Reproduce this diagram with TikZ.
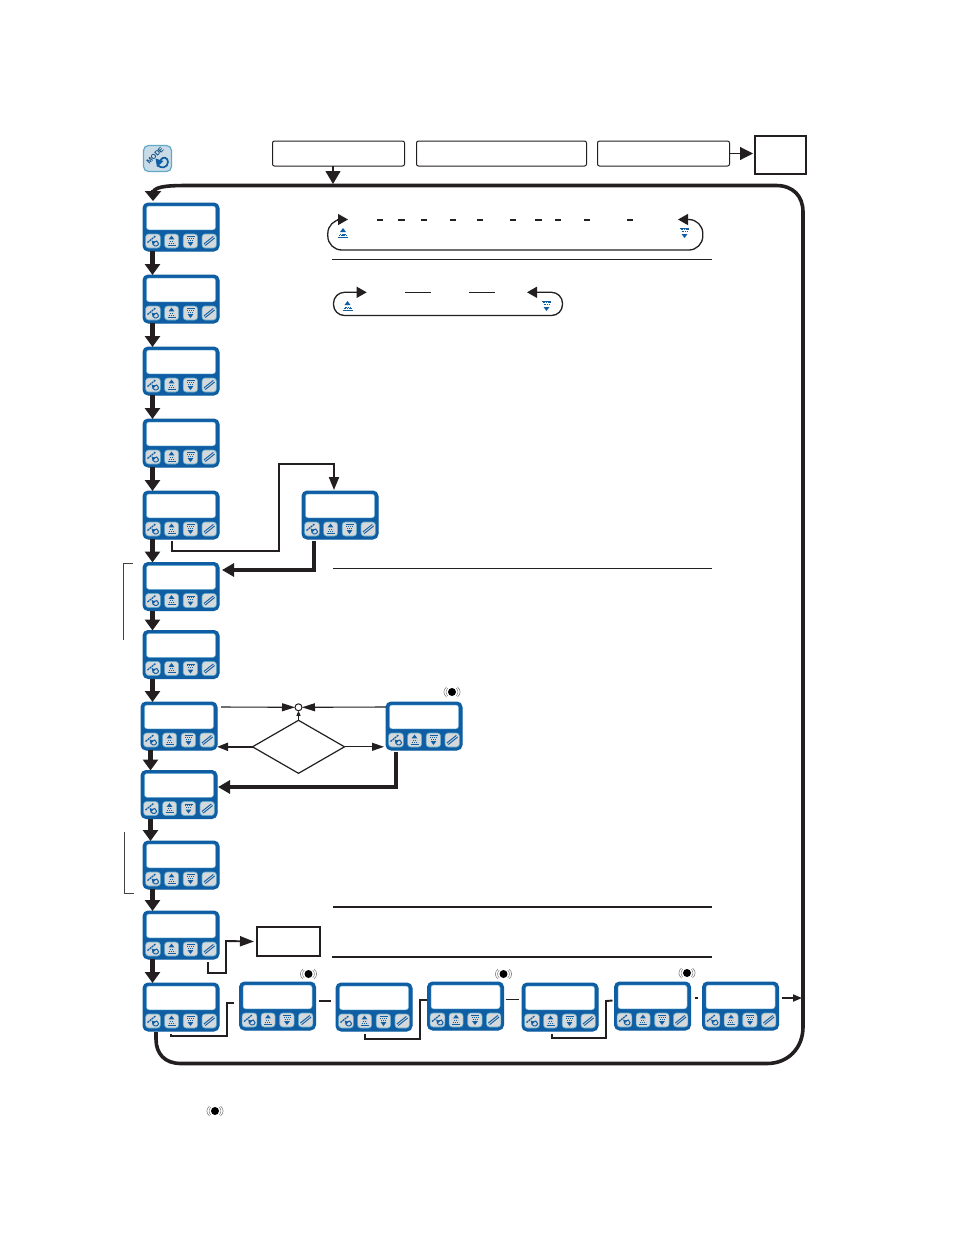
\documentclass[tikz,border=0pt]{standalone}
\usepackage{fontspec}
\setmainfont{Liberation Sans}
\usetikzlibrary{arrows.meta,calc,shapes.geometric}
\definecolor{ink}{HTML}{231F20}
\definecolor{panel}{HTML}{0F5EA3}
\definecolor{panelglow}{HTML}{6DB2D6}
\definecolor{keyface}{HTML}{D6D9DB}
\definecolor{keyring}{HTML}{5FA9C9}
\definecolor{modeface}{HTML}{C8DBE6}
\tikzset{
  x=1pt,y=-1pt,
  devicebody/.style={draw=panel,fill=panel,line width=1,rounded corners=5,minimum width=76,minimum height=48,inner sep=0,outer sep=0,anchor=north west},
  devicescreen/.style={draw=panelglow,fill=white,line width=.5,rounded corners=2.5},
  devicekey/.style={draw=keyring,fill=keyface,line width=.6,rounded corners=3},
  glyphline/.style={draw=panel,line width=.7},
  stepflow/.style={draw=ink,line width=5,-{Triangle[length=11pt,width=15pt]}},
  heavyflow/.style={draw=ink,line width=4.5,-{Triangle[length=12pt,width=13pt]}},
  loopline/.style={draw=ink,line width=3.6},
  midflow/.style={draw=ink,line width=1.9},
  thinflow/.style={draw=ink,line width=1.1},
  rangeline/.style={draw=ink,line width=1.3},
  rangetip/.style={-{Triangle[length=10pt,width=11pt]}},
  topbox/.style={draw=ink,line width=1,rounded corners=2,inner sep=0,outer sep=0,anchor=north west},
  rulethin/.style={draw=ink,line width=1},
  rulethick/.style={draw=ink,line width=2},
  bracket/.style={draw=ink!85,line width=1},
  dashmark/.style={draw=ink,line width=1.5},
}
% A display unit: blue body, white screen, four keys with their markings.
\newcommand\device[3]{%
  \node[devicebody] (#1) at (#2,#3) {};
  \begin{scope}[shift={(#1.north west)}]
    \draw[devicescreen] (3.5,3) rectangle (72.5,26.8);
    \draw[devicekey] (2.6,31) rectangle (17.4,45);
    \draw[devicekey] (21.6,31) rectangle (35.6,45);
    \draw[devicekey] (40.2,31) rectangle (54.6,45);
    \draw[devicekey] (59,31) rectangle (73.4,45);
    % first key: function bar and return arrow
    \draw[panel,line width=1.3,dash pattern=on 2 off .7] (4.5,39.5) -- (12.5,33);
    \draw[panel,line width=1] (10,41.5) .. controls (12,44) and (15.5,43) .. (15.5,40.5) .. controls (15.5,38) and (12.5,37) .. (11,39);
    \fill[panel] (8.7,37.5) -- (12.6,39) -- (9.6,42) -- cycle;
    % second key: triangle above small print
    \fill[panel] (28.5,32.6) -- (31.4,36.4) -- (25.6,36.4) -- cycle;
    \draw[glyphline,dash pattern=on 1.4 off .6] (26.5,38.2) -- (30.5,38.2);
    \draw[glyphline,dash pattern=on 1.4 off .6] (25.5,40.2) -- (31.5,40.2);
    \draw[glyphline] (24.5,42.2) -- (32.5,42.2);
    % third key: small print above triangle
    \draw[glyphline] (43.5,33.4) -- (51.5,33.4);
    \draw[glyphline,dash pattern=on 1.4 off .6] (44,35.2) -- (51,35.2);
    \draw[glyphline,dash pattern=on 1.4 off .6] (45,37) -- (50,37);
    \fill[panel] (47.5,43) -- (50.4,39) -- (44.6,39) -- cycle;
    % fourth key: slanted bars
    \draw[panel,line width=3] (61.5,41.8) -- (71,34.2);
    \draw[keyface,line width=.8] (61.5,41.8) -- (71,34.2);
    \coordinate (#1-a) at (0,48);
  \end{scope}}
% Alarm mark: black dot between two grey arcs.
\newcommand\alarm[3]{%
  \node[circle,fill=black,draw=none,minimum size=8,inner sep=0] (#1) at (#2,#3) {};
  \draw[black!55,line width=.5] ($(#1)+(-5.5,-5)$) .. controls ($(#1)+(-9,-2)$) and ($(#1)+(-9,2)$) .. ($(#1)+(-5.5,5)$);
  \draw[black!55,line width=.5] ($(#1)+(5.5,-5)$) .. controls ($(#1)+(9,-2)$) and ($(#1)+(9,2)$) .. ($(#1)+(5.5,5)$);
  \draw[black!55,line width=.4] ($(#1)+(-4.3,-3.8)$) .. controls ($(#1)+(-6.5,-1)$) and ($(#1)+(-6.5,1)$) .. ($(#1)+(-4.3,3.8)$);
  \draw[black!55,line width=.4] ($(#1)+(4.3,-3.8)$) .. controls ($(#1)+(6.5,-1)$) and ($(#1)+(6.5,1)$) .. ($(#1)+(4.3,3.8)$);}
% Key symbols printed beside the selection loops.
\newcommand\upmark[2]{%
  \begin{scope}[shift={(#1,#2)}]
    \fill[panel] (0,-5) -- (3,-1) -- (-3,-1) -- cycle;
    \draw[glyphline,dash pattern=on 1.2 off .5] (-3,1) -- (3,1);
    \draw[glyphline,dash pattern=on 1.2 off .5] (-4,2.8) -- (4,2.8);
    \draw[glyphline] (-5,4.6) -- (5,4.6);
  \end{scope}}
\newcommand\downmark[2]{%
  \begin{scope}[shift={(#1,#2)}]
    \draw[glyphline] (-4.5,-5) -- (4.5,-5);
    \draw[glyphline,dash pattern=on 1.2 off .5] (-4,-3.2) -- (4,-3.2);
    \draw[glyphline,dash pattern=on 1.2 off .5] (-3,-1.4) -- (3,-1.4);
    \fill[panel] (0,5) -- (3,1) -- (-3,1) -- cycle;
  \end{scope}}
\begin{document}
\begin{tikzpicture}
\useasboundingbox (0,0) rectangle (954,1235);
\fill[white] (0,0) rectangle (954,1235);

% Mode key at the head of the chart
\node[draw=keyring,fill=modeface,line width=1.2,rounded corners=5,minimum width=28,minimum height=26,inner sep=0] (modekey) at (157.5,158.5) {};
\node[rotate=45,text=panel!80!black,font=\bfseries\fontsize{7}{7}\selectfont,inner sep=0] (modelabel) at (155,155.5) {MODE};
\draw[panel,line width=1.7] (157.5,165) .. controls (160.5,169) and (168,168) .. (168,162) .. controls (168,157.5) and (163,156) .. (160.5,160);
\fill[panel] (155.5,158.5) -- (163.5,161) -- (157,167) -- cycle;

% Start-up messages and the power box
\node[topbox,minimum width=132,minimum height=25] (t1) at (272.5,141) {};
\node[topbox,minimum width=170,minimum height=25] (t2) at (416.5,141) {};
\node[topbox,minimum width=132,minimum height=25] (t3) at (597.5,141) {};
\node[draw=ink,line width=1.5,minimum width=51,minimum height=38,inner sep=0,outer sep=0,anchor=north west] (power) at (755,136) {};
\draw[thinflow,-{Triangle[length=13pt,width=13pt]}] (t3.east) -- ($(t3.east -| power.west)+(-2,0)$);
\coordinate (loopjoin) at (333,184);
\draw[thinflow,-{Triangle[length=13pt,width=15pt]}] (t1.south -| loopjoin) -- (loopjoin);

% Column of menu steps
\device{d1}{143}{203}
\device{d2}{143}{275}
\device{d3}{143}{347}
\device{d4}{143}{419}
\device{d5}{143}{491}
\device{d6}{143}{562.5}
\device{d7}{143}{630.5}
\device{d8}{141}{702}
\device{d9}{141}{770.5}
\device{d10}{143}{841}
\device{d11}{143}{911}
\device{d12}{143}{983}
% Side branches
\device{d13}{302}{491}
\device{d14}{386}{702}
% Bottom row
\device{r1}{239.5}{982}
\device{r2}{336}{983}
\device{r3}{427.5}{982}
\device{r4}{522}{983}
\device{r5}{614.5}{982}
\device{r6}{702.5}{982}

% Downward flow between the steps
\foreach \u/\v in {d1/d2,d2/d3,d3/d4,d4/d5,d5/d6,d6/d7,d7/d8,d8/d9,d9/d10,d10/d11,d11/d12}{
  \coordinate (from) at ($(\u-a)+(9.5,0)$);
  \draw[stepflow] (from) -- (from |- \v.north);
}

% Main return loop
\draw[loopline] ($(d12-a)+(13,1)$) -- ($(d12-a)+(13,8)$) .. controls ($(d12-a)+(13,23)$) and ($(d12-a)+(22,32.5)$) .. ($(d12-a)+(38,32.5)$)
  -- (767,1063.5) .. controls (788,1063.5) and (803,1048) .. (803,1027)
  -- (803,212) .. controls (803,196) and (793,185.5) .. (776,185.5)
  -- (193,185.5) .. controls (172,185.5) and (156,185.5) .. (153,192);
\coordinate (loopin) at ($(d1.north west)+(10,-2)$);
\draw[draw=ink,line width=3.6,-{Triangle[length=10pt,width=16pt]}] (153,190) -- (loopin);

% Branch to the side step and back
\draw[midflow,-{Triangle[length=13pt,width=10pt]}] ($(d5-a)+(29,2)$) -- ($(d5-a)+(29,12)$) -- ($(d5-a)+(136,12)$) -- ($(d5-a)+(136,-75)$) -- ($(d13.north west)+(32,-27)$) -- ($(d13.north west)+(32,-1)$);
\draw[heavyflow] ($(d13-a)+(12,2)$) -- ($(d13-a)+(12,31)$) -- ($(d6.north east)+(3,7.5)$);

% Brackets at the left margin
\coordinate (b1a) at (133,563); \coordinate (b1b) at (123.5,563); \coordinate (b1c) at (123.5,640);
\draw[bracket] (b1a) -- (b1b) -- (b1c);
\coordinate (b2a) at (124,832); \coordinate (b2b) at (124,893); \coordinate (b2c) at (134,893);
\draw[bracket] (b2a) -- (b2b) -- (b2c);

% Decision between the two fault steps
\node[circle,draw=ink,fill=white,line width=1,minimum size=7,inner sep=0,outer sep=0] (junction) at (298.5,707.3) {};
\node[diamond,draw=ink,line width=1.2,minimum width=92,minimum height=53,inner sep=0,outer sep=0] (choice) at (298.5,746.8) {};
\draw[thinflow,-{Triangle[length=5pt,width=4pt]}] (choice.north) -- (junction.south);
\draw[thinflow,-{Triangle[length=13pt,width=8pt]}] ($(d8.north east)+(4,5)$) -- (junction.west);
\draw[thinflow,-{Triangle[length=13pt,width=8pt]}] ($(d14.north west)+(0,5)$) -- (junction.east);
\draw[midflow,-{Triangle[length=11pt,width=8pt]}] (choice.west) -- (choice.west -| d8.east);
\draw[thinflow,-{Triangle[length=12pt,width=8pt]}] (choice.east) -- ($(choice.east -| d14.west)+(-2,0)$);
\draw[heavyflow] ($(d14-a)+(10,2)$) -- ($(d14-a)+(10,37)$) -- ($(d9.north east)+(1,16.5)$);
\alarm{a1}{452}{692}

% Selection loops with their key symbols
\coordinate (s1l) at (348,219.5); \coordinate (s1r) at (678,219.5);
\draw[rangeline,rounded corners=14] (338,219.5) -- (327.8,219.5) -- (327.8,250) -- (702.8,250) -- (702.8,219.5) -- (688,219.5);
\draw[draw=ink,line width=1.3,rangetip] (337,219.5) -- (s1l);
\draw[draw=ink,line width=1.3,rangetip] (689,219.5) -- (s1r);
\foreach \a/\b in {377.3/383.3,398/405,421/426.7,450/455.7,477/482.7,510/515.7,535.3/542,555/560.7,584/589.7,627/632.7}{
  \draw[dashmark] (\a,220) -- (\b,220);
}
\upmark{343}{233}
\downmark{684.5}{233}
\draw[rulethin] (332,259.8) -- (712,259.8);

\coordinate (s2l) at (366.7,292.3); \coordinate (s2r) at (527,292.3);
\draw[rangeline,rounded corners=11] (357,292.3) -- (333.5,292.3) -- (333.5,315.5) -- (562.5,315.5) -- (562.5,292.3) -- (537,292.3);
\draw[draw=ink,line width=1.3,rangetip] (356,292.3) -- (s2l);
\draw[draw=ink,line width=1.3,rangetip] (538,292.3) -- (s2r);
\draw[rulethin] (405,292) -- (431,292);
\draw[rulethin] (469,292) -- (495,292);
\upmark{347.5}{306}
\downmark{546.5}{306}

% Section rules
\draw[rulethin] (333,568.5) -- (712,568.5);
\draw[rulethick] (333,907) -- (712,907);
\draw[rulethick] (332,957) -- (712,957);

% Exit box from the lower column
\node[draw=ink,line width=1.2,minimum width=63,minimum height=29,inner sep=0,outer sep=0,anchor=north west] (exitbox) at (257,927) {};
\draw[midflow,-{Triangle[length=14pt,width=10pt]}] ($(d11-a)+(65,3)$) -- ($(d11-a)+(65,14)$) -- ($(d11-a)+(83,14)$) -- ($(d11-a)+(83,-18)$) -- ($(exitbox.west)+(-3,0)$);

% Bottom row links
\draw[midflow] ($(d12-a)+(28,3)$) -- ($(d12-a)+(28,5)$) -- ($(d12-a)+(84,5)$) -- ($(d12-a)+(84,-28)$) -- ($(r1.north west)+(-6,21)$);
\draw[midflow] ($(r1.north east)+(3,19)$) -- ($(r2.north west)+(-5,18)$);
\draw[midflow] ($(r2-a)+(29,3)$) -- ($(r2-a)+(29,8)$) -- ($(r2-a)+(84,8)$) -- ($(r2-a)+(84,-31)$) -- ($(r3.north west)+(-1,18)$);
\draw[thinflow] ($(r3.north east)+(2,17.5)$) -- ($(r4.north west)+(-3,16.5)$);
\draw[midflow] ($(r4-a)+(30,3)$) -- ($(r4-a)+(30,7)$) -- ($(r4-a)+(84,7)$) -- ($(r4-a)+(84,-30)$) -- ($(r5.north west)+(-2,18.5)$);
\draw[thinflow] ($(r5.north east)+(4,16)$) -- ($(r6.north west)+(-5,16)$);
\coordinate (rowexit) at (802,998);
\draw[midflow,-{Triangle[length=9pt,width=7pt]}] ($(r6.north east)+(3,16)$) -- (rowexit);

% Alarm marks
\alarm{a2}{308.5}{974}
\alarm{a3}{503.5}{974}
\alarm{a4}{687}{973}
\alarm{a5}{215}{1111}
\end{tikzpicture}
\end{document}
